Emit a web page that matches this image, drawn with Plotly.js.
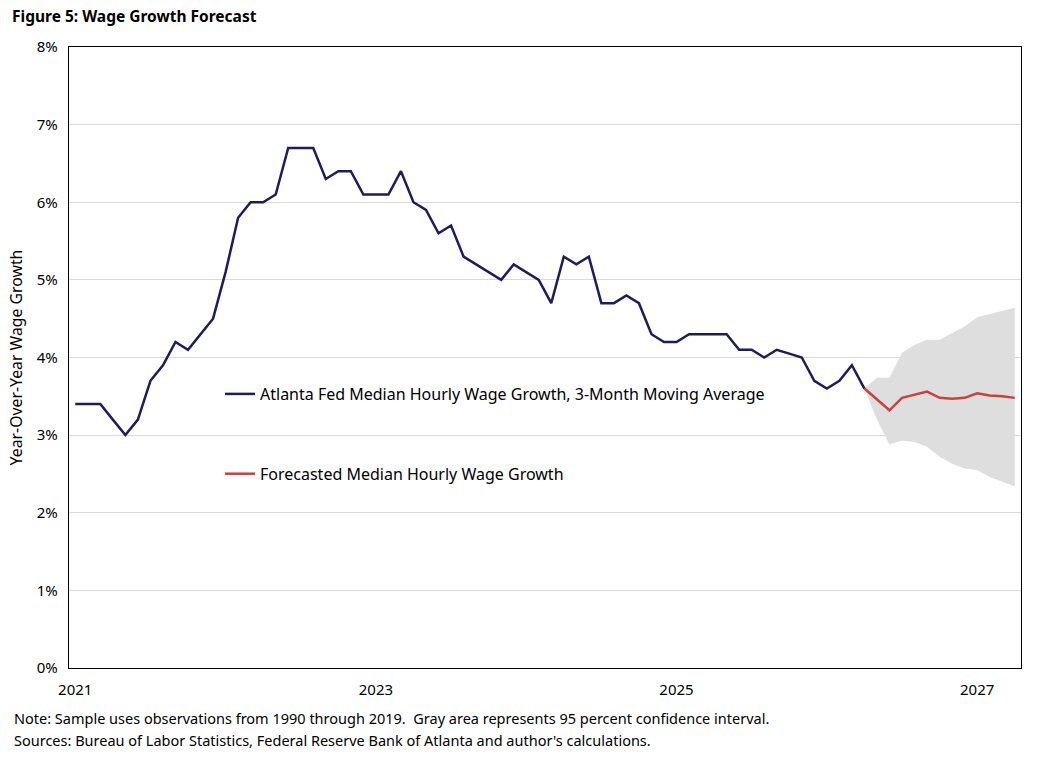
<!DOCTYPE html>
<html>
<head>
<meta charset="utf-8">
<script src="https://cdn.plot.ly/plotly-3.0.1.min.js"></script>
<style>
  html, body { margin: 0; padding: 0; background: #fff; }
  #chart { width: 1044px; height: 758px; }
</style>
</head>
<body>
<div id="chart"></div>
<script>
// Monthly axis: January 2021 through April 2027
const startYear = 2021;
const monthCount = 76;
const yearLabels = ['2021', '2023', '2025', '2027'];

// Atlanta Fed median hourly wage growth, 3-month moving average (%), Jan 2021 - Apr 2026
const wageGrowth = [
  3.4, 3.4, 3.4, 3.2, 3.0, 3.2, 3.7, 3.9, 4.2, 4.1, 4.3, 4.5,
  5.1, 5.8, 6.0, 6.0, 6.1, 6.7, 6.7, 6.7, 6.3, 6.4, 6.4, 6.1,
  6.1, 6.1, 6.4, 6.0, 5.9, 5.6, 5.7, 5.3, 5.2, 5.1, 5.0, 5.2,
  5.1, 5.0, 4.7, 5.3, 5.2, 5.3, 4.7, 4.7, 4.8, 4.7, 4.3, 4.2,
  4.2, 4.3, 4.3, 4.3, 4.3, 4.1, 4.1, 4.0, 4.1, 4.05, 4.0, 3.7,
  3.6, 3.7, 3.9, 3.6
];

// Forecast (%), Apr 2026 - Apr 2027, with 95 percent confidence bounds
const forecast = [3.6, 3.46, 3.32, 3.48, 3.52, 3.56, 3.48, 3.47, 3.48, 3.54, 3.51, 3.50, 3.48];
const upperBound = [3.6, 3.74, 3.74, 4.06, 4.16, 4.23, 4.23, 4.32, 4.40, 4.52, 4.56, 4.60, 4.64];
const lowerBound = [3.6, 3.20, 2.88, 2.93, 2.91, 2.85, 2.72, 2.63, 2.57, 2.55, 2.46, 2.40, 2.34];

const months = [];
for (let i = 0; i < monthCount; i++) {
  const y = startYear + Math.floor(i / 12);
  const m = (i % 12) + 1;
  months.push(y + '-' + String(m).padStart(2, '0'));
}
const histX = months.slice(0, wageGrowth.length);
const fcX = months.slice(wageGrowth.length - 1, wageGrowth.length - 1 + forecast.length);
const tickMonths = yearLabels.map(y => y + '-01');

const pct = v => v.map(x => x / 100);

const font = "'Noto Sans', 'Open Sans', sans-serif";

const traces = [
  {
    x: fcX, y: pct(lowerBound), type: 'scatter', mode: 'lines',
    line: { width: 0, color: 'rgba(0,0,0,0)' }, showlegend: false, hoverinfo: 'skip'
  },
  {
    x: fcX, y: pct(upperBound), type: 'scatter', mode: 'lines',
    fill: 'tonexty', fillcolor: '#dedede',
    line: { width: 0, color: 'rgba(0,0,0,0)' }, showlegend: false, hoverinfo: 'skip'
  },
  {
    x: histX, y: pct(wageGrowth), type: 'scatter', mode: 'lines',
    name: 'Atlanta Fed Median Hourly Wage Growth, 3-Month Moving Average',
    legendgroup: 'a',
    line: { color: '#1f1b5c', width: 2.5 }
  },
  {
    x: fcX, y: pct(forecast), type: 'scatter', mode: 'lines',
    name: 'Forecasted Median Hourly Wage Growth',
    legendgroup: 'b',
    line: { color: '#c9413b', width: 2.5 }
  }
];

const layout = {
  width: 1044, height: 758,
  paper_bgcolor: '#ffffff', plot_bgcolor: '#ffffff',
  margin: { l: 69, r: 23, t: 47, b: 90 },
  font: { family: font, color: '#000000', size: 15 },
  title: {
    text: '<b>Figure 5: Wage Growth Forecast</b>',
    font: { family: font, size: 15.5, color: '#000000' },
    xref: 'container', yref: 'container',
    x: 12 / 1044, xanchor: 'left', y: 1 - 17 / 758, yanchor: 'middle'
  },
  xaxis: {
    type: 'category',
    categoryorder: 'array', categoryarray: months,
    range: [-0.5, monthCount - 0.5],
    tickmode: 'array', tickvals: tickMonths, ticktext: yearLabels,
    showgrid: false, zeroline: false,
    showline: true, mirror: true, linecolor: '#000000', linewidth: 1.3,
    ticks: '', ticklen: 0, ticklabelstandoff: 8,
    tickfont: { family: font, size: 15, color: '#000000' },
    fixedrange: true
  },
  yaxis: {
    range: [0, 0.08],
    tickvals: [0, 0.01, 0.02, 0.03, 0.04, 0.05, 0.06, 0.07, 0.08],
    tickformat: '.0%',
    showgrid: true, gridcolor: '#d9d9d9', gridwidth: 1,
    zeroline: false,
    showline: true, mirror: true, linecolor: '#000000', linewidth: 1.3,
    ticks: '', ticklen: 0, ticklabelstandoff: 7,
    tickfont: { family: font, size: 15, color: '#000000' },
    title: { text: 'Year-Over-Year Wage Growth', font: { family: font, size: 15.8, color: '#000000' }, standoff: 10 },
    fixedrange: true
  },
  legend: {
    x: (220 - 69) / 952, xanchor: 'left',
    y: (668 - 377) / 621, yanchor: 'top',
    bgcolor: 'rgba(0,0,0,0)', borderwidth: 0,
    traceorder: 'grouped', tracegroupgap: 56,
    font: { family: font, size: 16, color: '#000000' },
    itemwidth: 30
  },
  annotations: [
    {
      xref: 'paper', yref: 'paper',
      x: (12 - 69) / 952, xanchor: 'left',
      y: (668 - 718) / 621, yanchor: 'middle',
      showarrow: false, align: 'left',
      text: 'Note: Sample uses observations from 1990 through 2019.  Gray area represents 95 percent confidence interval.',
      font: { family: font, size: 14.5, color: '#000000' }
    },
    {
      xref: 'paper', yref: 'paper',
      x: (12 - 69) / 952, xanchor: 'left',
      y: (668 - 740) / 621, yanchor: 'middle',
      showarrow: false, align: 'left',
      text: "Sources: Bureau of Labor Statistics, Federal Reserve Bank of Atlanta and author's calculations.",
      font: { family: font, size: 14.5, color: '#000000' }
    }
  ],
  showlegend: true
};

Plotly.newPlot('chart', traces, layout, { displayModeBar: false, staticPlot: true });
</script>
</body>
</html>
